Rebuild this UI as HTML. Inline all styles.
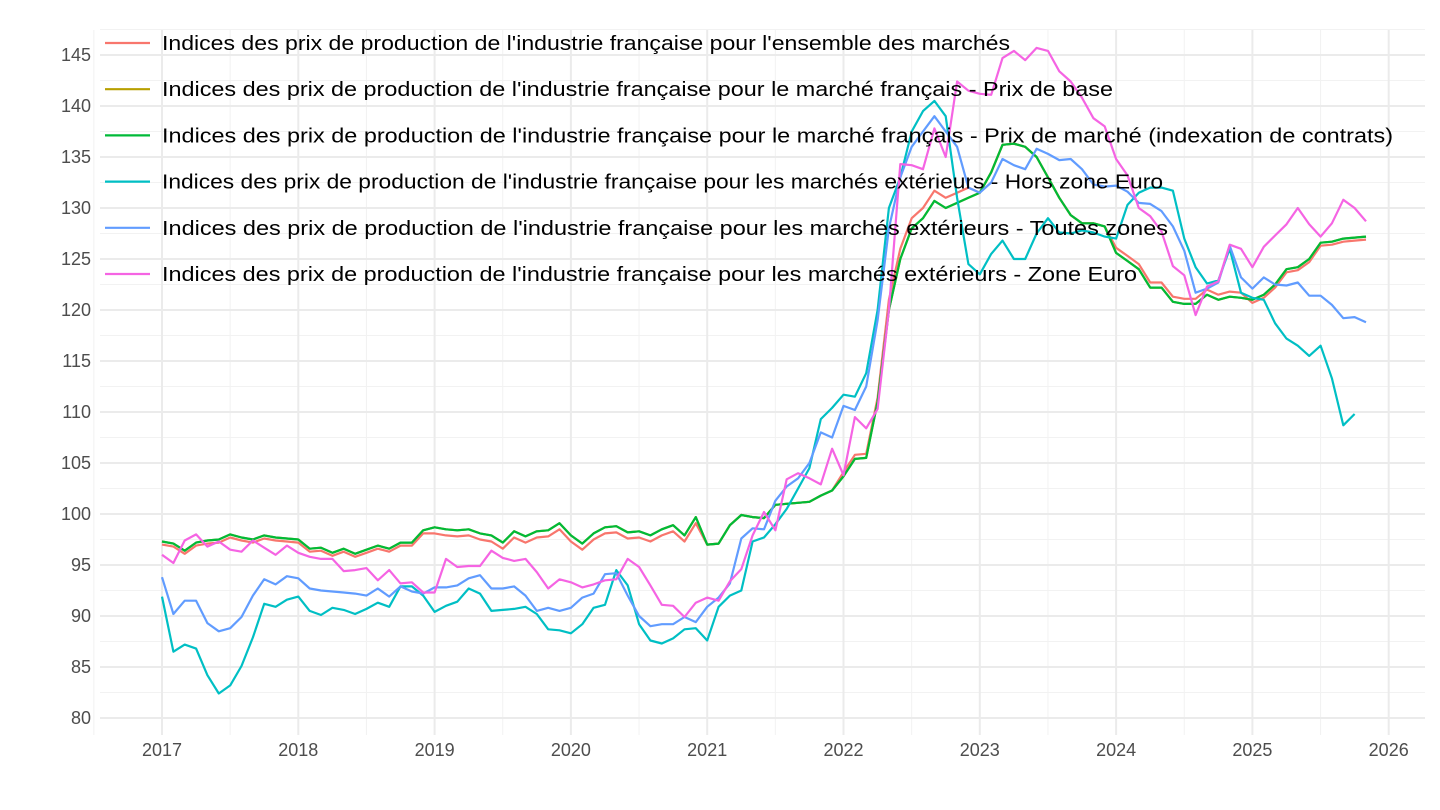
<!DOCTYPE html>
<html><head><meta charset="utf-8"><style>
html,body{margin:0;padding:0;background:#fff}
svg{display:block;font-family:"Liberation Sans",Arial,sans-serif}
</style></head><body>
<svg id="c" width="1440" height="810" viewBox="0 0 1440 810" xmlns="http://www.w3.org/2000/svg"></svg>
<script>
const svg=document.getElementById('c');
const X0=162,YR=136.3,MX=YR/12;
const yv=v=>514-(v-100)*10.2;
let s='';
for(let v=82.5;v<=147.5;v+=5){s+=`<line x1="100" x2="1425" y1="${yv(v)}" y2="${yv(v)}" stroke="#f2f2f2" stroke-width="1"/>`;}
for(let i=-0.5;i<=9.5;i+=1){const x=X0+i*YR;s+=`<line x1="${x}" x2="${x}" y1="30" y2="735" stroke="#f2f2f2" stroke-width="1"/>`;}
for(let v=80;v<=145;v+=5){s+=`<line x1="100" x2="1425" y1="${yv(v)}" y2="${yv(v)}" stroke="#ebebeb" stroke-width="2"/>`;
 s+=`<text x="91" y="${yv(v)+6}" text-anchor="end" font-size="18" fill="#4d4d4d">${v}</text>`;}
for(let i=0;i<=9;i++){const x=X0+i*YR;s+=`<line x1="${x}" x2="${x}" y1="30" y2="735" stroke="#ebebeb" stroke-width="2"/>`;
 s+=`<text x="${x}" y="756" text-anchor="middle" font-size="18" fill="#4d4d4d">${2017+i}</text>`;}
const G=[97.3,97.1,96.4,97.2,97.4,97.5,98.0,97.7,97.5,97.9,97.7,97.6, 97.5,96.6,96.7,96.2,96.6,96.1,96.5,96.9,96.6,97.2,97.2,98.4, 98.7,98.5,98.4,98.5,98.1,97.9,97.2,98.3,97.8,98.3,98.4,99.1, 97.9,97.1,98.1,98.7,98.8,98.2,98.3,97.9,98.5,98.9,97.9,99.7, 97.0,97.1,98.9,99.9,99.7,99.6,100.9,101.0,101.1,101.2,101.8,102.3, 103.7,105.4,105.5,111,120,125,128,129,130.7,130,130.5,131, 131.5,133.5,136.2,136.3,136,135,133,131,129.3,128.5,128.5,128.2, 125.6,124.8,124,122.2,122.2,120.8,120.6,120.6,121.5,121,121.3,121.2, 121,121.5,122.5,124,124.2,125,126.6,126.7,127,127.1,127.2];
const R=G.map((v,i)=>{let d=0;if(i<24)d=-0.3;else if(i<48)d=-0.6;else if(i<60)d=0;else if(i<64)d=0.4;else if(i<72)d=1.0;else if(i<84)d=0;else if(i<96)d=0.5;else d=-0.3;return v+d;});
const T=[91.9,86.5,87.2,86.8,84.2,82.4,83.2,85.1,87.9,91.2,90.9,91.6, 91.9,90.5,90.1,90.8,90.6,90.2,90.7,91.3,90.9,92.9,92.9,92.0, 90.4,91.0,91.4,92.7,92.2,90.5,90.6,90.7,90.9,90.2,88.7,88.6, 88.3,89.2,90.8,91.1,94.5,93.0,89.2,87.6,87.3,87.8,88.7,88.8, 87.6,90.9,92.0,92.5,97.3,97.7,99.0,100.5,102.5,104.5,109.3,110.4, 111.7,111.5,113.8,120,130,133,137.5,139.5,140.5,139,131,124.5, 123.5,125.5,126.8,125,125,127.5,129,127.6,127.5,127.8,127.6,127.2, 127,130.3,131.5,132,132,131.7,127,124.2,122.6,122.9,126,121.7, 121.2,121,118.7,117.2,116.5,115.5,116.5,113.3,108.7,109.8];
const B=[93.8,90.2,91.5,91.5,89.3,88.5,88.8,89.9,92.0,93.6,93.1,93.9, 93.7,92.7,92.5,92.4,92.3,92.2,92.0,92.7,91.9,92.9,92.4,92.2, 92.8,92.8,93.0,93.7,94.0,92.7,92.7,92.9,92.0,90.5,90.8,90.5, 90.8,91.8,92.2,94.1,94.2,92.0,90.0,89.0,89.2,89.2,89.9,89.4, 90.9,91.8,93.2,97.6,98.6,98.5,101.3,102.7,103.5,105,108,107.5, 110.6,110.2,112.5,119,128,133,136,137.5,139,137.5,136,132, 131.5,132.5,134.8,134.2,133.8,135.8,135.3,134.7,134.8,133.8,132.3,132.1, 132.2,131.6,130.5,130.4,129.7,128.2,125.8,121.7,122.1,122.7,126.3,123.2, 122.1,123.2,122.5,122.4,122.7,121.4,121.4,120.5,119.2,119.3,118.8];
const P=[96.0,95.2,97.4,98.0,96.8,97.3,96.5,96.3,97.4,96.7,96.0,96.9, 96.2,95.8,95.6,95.6,94.4,94.5,94.7,93.5,94.5,93.2,93.3,92.3, 92.3,95.6,94.8,94.9,94.9,96.4,95.7,95.4,95.6,94.3,92.7,93.6, 93.3,92.8,93.1,93.5,93.6,95.6,94.8,93.0,91.1,91.0,89.9,91.3, 91.8,91.5,93.4,94.6,97.9,100.2,98.4,103.4,104.0,103.5,102.9,106.4, 103.8,109.5,108.4,110.3,120,134.3,134.2,133.8,137.8,135,142.4,141.5, 141.2,141.1,144.7,145.4,144.5,145.7,145.4,143.4,142.4,140.8,138.8,138.0, 134.8,133.2,130.0,129.2,127.7,124.3,123.4,119.5,122.3,122.8,126.4,126.0, 124.2,126.2,127.3,128.4,130,128.4,127.2,128.5,130.8,130,128.7];
const line=(d,c)=>`<polyline fill="none" stroke="${c}" stroke-width="2.2" stroke-linejoin="round" points="${d.map((v,i)=>(X0+i*MX).toFixed(1)+','+yv(v).toFixed(1)).join(' ')}"/>`;
s+=line(R,'#F8766D')+line(G,'#B79F00')+line(G,'#00BA38')+line(T,'#00BFC4')+line(B,'#619CFF')+line(P,'#F564E3');
const L=[["#F8766D","Indices des prix de production de l'industrie française pour l'ensemble des marchés",848],
["#B79F00","Indices des prix de production de l'industrie française pour le marché français - Prix de base",951],
["#00BA38","Indices des prix de production de l'industrie française pour le marché français - Prix de marché (indexation de contrats)",1231],
["#00BFC4","Indices des prix de production de l'industrie française pour les marchés extérieurs - Hors zone Euro",1001],
["#619CFF","Indices des prix de production de l'industrie française pour les marchés extérieurs - Toutes zones",1006],
["#F564E3","Indices des prix de production de l'industrie française pour les marchés extérieurs - Zone Euro",975]];
L.forEach((l,i)=>{const y=43+i*46.2;s+=`<line x1="105" x2="150" y1="${y}" y2="${y}" stroke="${l[0]}" stroke-width="2.2"/>`;
 s+=`<text x="162" y="${y+7}" font-size="20" fill="#000" textLength="${l[2]}" lengthAdjust="spacingAndGlyphs">${l[1]}</text>`;});
svg.innerHTML=s;
</script>
</body></html>
